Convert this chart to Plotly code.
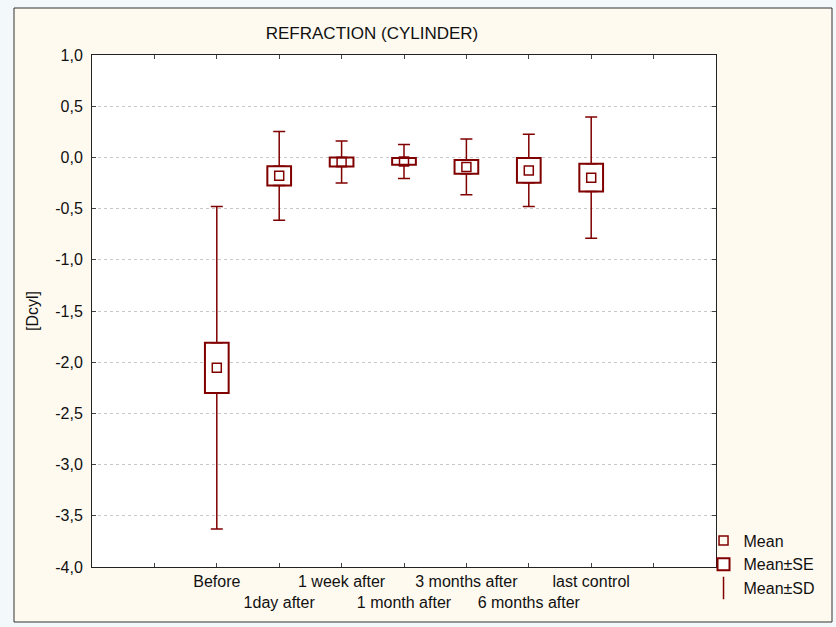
import plotly.graph_objects as go

# ---- data ----
categories = ["Before", "1day after", "1 week after", "1 month after",
              "3 months after", "6 months after", "last control"]
means = [-2.055, -0.180, -0.044, -0.039, -0.093, -0.127, -0.198]
se    = [0.245, 0.094, 0.044, 0.032, 0.067, 0.120, 0.135]
sd    = [1.575, 0.434, 0.205, 0.166, 0.272, 0.352, 0.592]

y_ticks = [-4.0, -3.5, -3.0, -2.5, -2.0, -1.5, -1.0, -0.5, 0.0, 0.5, 1.0]
title_text = "REFRACTION (CYLINDER)"
y_title = "[Dcyl]"

RED = "#800000"
FONT = "Liberation Sans, Arial, sans-serif"

xpos = list(range(len(categories)))
box_low = [m - s for m, s in zip(means, se)]
box_high = [m + s for m, s in zip(means, se)]
whisk_len = [d - s for d, s in zip(sd, se)]

fig = go.Figure()

# SE boxes
fig.add_trace(go.Bar(
    x=xpos, y=[2 * s for s in se], base=box_low, width=0.38,
    marker=dict(color="white", line=dict(color=RED, width=2)),
    name="Mean±SE", legendrank=2, hoverinfo="skip",
))

# SD whiskers (upper and lower), starting at the box edges
fig.add_trace(go.Scatter(
    x=xpos, y=box_high, mode="markers",
    marker=dict(size=1, color="rgba(0,0,0,0)"),
    error_y=dict(type="data", symmetric=False, array=whisk_len,
                 arrayminus=[0] * len(se), color=RED, thickness=1.5, width=6),
    showlegend=False, hoverinfo="skip",
))
fig.add_trace(go.Scatter(
    x=xpos, y=box_low, mode="markers",
    marker=dict(size=1, color="rgba(0,0,0,0)"),
    error_y=dict(type="data", symmetric=False, array=[0] * len(se),
                 arrayminus=whisk_len, color=RED, thickness=1.5, width=6),
    showlegend=False, hoverinfo="skip",
))
# legend entry for the whiskers
fig.add_trace(go.Scatter(
    x=[None], y=[None], mode="markers",
    marker=dict(symbol="line-ns-open", size=16, color=RED,
                line=dict(color=RED, width=1.5)),
    name="Mean±SD", legendrank=3,
))

# means
fig.add_trace(go.Scatter(
    x=xpos, y=means, mode="markers",
    marker=dict(symbol="square-open", size=9, color=RED,
                line=dict(color=RED, width=1.5)),
    name="Mean", legendrank=1,
))

tickvals_x = list(range(-1, len(categories) + 1))
ticktext_x = []
for i in tickvals_x:
    if 0 <= i < len(categories):
        ticktext_x.append(categories[i] if i % 2 == 0 else "<br>" + categories[i])
    else:
        ticktext_x.append("")

fig.update_layout(
    width=836, height=627,
    margin=dict(l=92, r=120, t=55, b=60),
    paper_bgcolor="#F3F8FB",
    plot_bgcolor="rgba(0,0,0,0)",
    font=dict(family=FONT, size=16, color="#111111"),
    title=dict(text=title_text, x=0.445, xanchor="center",
               y=1 - 32.7 / 627, yanchor="middle",
               font=dict(family=FONT, size=17, color="#111111")),
    showlegend=True,
    legend=dict(x=0.98, xanchor="left", y=0.085, yanchor="top",
                bgcolor="rgba(0,0,0,0)", font=dict(family=FONT, size=16),
                itemsizing="trace", tracegroupgap=0),
    barmode="overlay",
    shapes=[
        dict(type="rect", xref="paper", yref="paper", layer="below",
             xsizemode="pixel", xanchor=0, x0=-78, x1=740,
             ysizemode="pixel", yanchor=0, y0=-55, y1=559,
             fillcolor="#FFFAF0", line=dict(color="#333333", width=1)),
        dict(type="rect", xref="paper", yref="paper", layer="below",
             x0=0, x1=1, y0=0, y1=1,
             fillcolor="white", line=dict(width=0)),
    ],
)

fig.update_xaxes(
    range=[-2, 8], tickvals=tickvals_x, ticktext=ticktext_x,
    tickangle=0, automargin=False,
    showgrid=False, zeroline=False,
    showline=True, linecolor="#222222", linewidth=1, mirror="ticks",
    ticks="inside", ticklen=4, tickcolor="#444444",
    tickfont=dict(family=FONT, size=16, color="#111111"),
)
fig.update_yaxes(
    range=[-4, 1], tickvals=y_ticks, automargin=False,
    ticktext=[f"{v:.1f}".replace(".", ",") for v in y_ticks],
    showgrid=True, gridcolor="#C8C8C8", griddash="dot", gridwidth=1,
    zeroline=False,
    showline=True, linecolor="#222222", linewidth=1, mirror="ticks",
    ticks="inside", ticklen=4, tickcolor="#444444",
    ticklabelstandoff=5,
    tickfont=dict(family=FONT, size=16, color="#111111"),
    title=dict(text=y_title, standoff=12,
               font=dict(family=FONT, size=16, color="#111111")),
)

fig.write_html("out.html")
